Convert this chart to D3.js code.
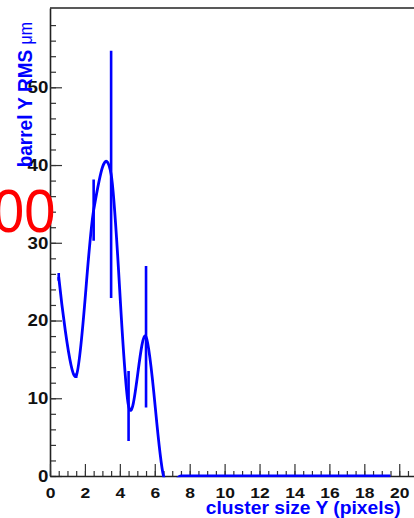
<!DOCTYPE html>
<html>
<head>
<meta charset="utf-8">
<script src="https://cdnjs.cloudflare.com/ajax/libs/d3/7.8.5/d3.min.js"></script>
<style>
  html, body { margin: 0; padding: 0; background: #fff; }
  svg { display: block; }
</style>
</head>
<body>
<svg id="chart" width="414" height="518"></svg>
<script>

// Data
  // bin centres of the cluster size histogram
  var binCentres = [0.5, 1.5, 2.5, 3.5, 4.5, 5.5, 6.5, 7.5, 8.5, 9.5, 10.5, 11.5, 12.5, 13.5, 14.5, 15.5, 16.5, 17.5, 18.5, 19.5];
  // RMS values (um) and their errors
  var rmsValues  = [25.6, 12.9, 34.2, 38.8, 9.0, 17.9, 0, 0, 0, 0, 0, 0, 0, 0, 0, 0, 0, 0, 0, 0];
  var rmsErrors  = [0.5, 0.3, 3.95, 15.9, 4.5, 9.1, 0, 0, 0, 0, 0, 0, 0, 0, 0, 0, 0, 0, 0, 0];

  // tick values
  var xMajorTicks = d3.range(0, 21, 2);
  var xMinorTicks = d3.range(0, 21.01, 0.5);
  var yMajorTicks = [0, 10, 20, 30, 40, 50];
  var yMinorTicks = d3.range(0, 59, 2);

  var xTitle = 'cluster size Y (pixels)';
  var yTitle = 'barrel Y RMS ';
  var yUnit = '\u03bcm';
  var overlayText = '00';

// Layout  (note: 'top' is taken by window.top, so use frame* names)
  var svg = d3.select('#chart');
  var frameLeft = 50, frameTop = 8, frameBottom = 476, frameRight = 416.7;
  var blue = '#0000ff', axisColor = '#222';
  var font = '"Liberation Sans", Arial, sans-serif';

  var x = d3.scaleLinear().domain([0, 21]).range([frameLeft, frameRight]);
  var y = d3.scaleLinear().domain([0, 60.2]).range([frameBottom, frameTop]);

  svg.append('defs').append('clipPath')
    .attr('id', 'plot-clip')
    .append('rect')
      .attr('x', frameLeft)
      .attr('y', frameTop)
      .attr('width', frameRight - frameLeft)
      .attr('height', frameBottom - frameTop + 1.2);

// Frame top line
  svg.append('line')
    .attr('x1', frameLeft).attr('x2', frameRight)
    .attr('y1', frameTop).attr('y2', frameTop)
    .attr('stroke', axisColor)
    .attr('stroke-width', 1.6);

// Y axis (ticks point into the plot)
  var yMinor = svg.append('g')
    .attr('transform', 'translate(' + frameLeft + ',0)')
    .call(d3.axisLeft(y).tickValues(yMinorTicks).tickSizeInner(-6).tickSizeOuter(0).tickFormat(''));
  yMinor.select('.domain').remove();

  var yAxis = svg.append('g')
    .attr('transform', 'translate(' + frameLeft + ',0)')
    .call(d3.axisLeft(y).tickValues(yMajorTicks).tickSizeInner(-12).tickSizeOuter(0).tickPadding(1.5));
  yAxis.select('.domain').attr('stroke', axisColor).attr('stroke-width', 1.6);
  yAxis.selectAll('.tick text')
    .attr('font-family', font)
    .attr('font-weight', 'bold')
    .attr('font-size', 17)
    .attr('fill', '#111')
    .attr('transform', 'scale(1.1,1)');

// X axis (ticks point up)
  var xMinor = svg.append('g')
    .attr('transform', 'translate(0,' + frameBottom + ')')
    .call(d3.axisBottom(x).tickValues(xMinorTicks).tickSizeInner(-5).tickSizeOuter(0).tickFormat(''));
  xMinor.select('.domain').remove();

  var xAxis = svg.append('g')
    .attr('transform', 'translate(0,' + frameBottom + ')')
    .call(d3.axisBottom(x).tickValues(xMajorTicks).tickSizeInner(-12).tickSizeOuter(0).tickPadding(12));
  xAxis.select('.domain').attr('stroke', axisColor).attr('stroke-width', 1.6);
  xAxis.selectAll('.tick text')
    .attr('font-family', font)
    .attr('font-weight', 'bold')
    .attr('font-size', 14)
    .attr('fill', '#111')
    .attr('transform', 'scale(1.25,1)');

  svg.selectAll('.tick line').attr('stroke', '#333').attr('stroke-width', 1.2);

// Data layer
  var pts = binCentres.map(function (c, i) { return {x: c, v: rmsValues[i], e: rmsErrors[i]}; });

  var plot = svg.append('g').attr('clip-path', 'url(#plot-clip)');

  // uniform Catmull-Rom, close to ROOT's smooth "C" drawing
  var line = d3.line()
    .x(function (d) { return x(d.x); })
    .y(function (d) { return y(d.v); })
    .curve(d3.curveCardinal.tension(0));

  plot.append('path')
    .datum(pts)
    .attr('d', line)
    .attr('fill', 'none')
    .attr('stroke', blue)
    .attr('stroke-width', 2.8);

  plot.selectAll('.err')
    .data(pts.filter(function (d) { return d.e > 0; }))
    .enter().append('line')
      .attr('class', 'err')
      .attr('x1', function (d) { return x(d.x); })
      .attr('x2', function (d) { return x(d.x); })
      .attr('y1', function (d) { return y(d.v - d.e); })
      .attr('y2', function (d) { return y(d.v + d.e); })
      .attr('stroke', blue)
      .attr('stroke-width', 2.6);

// Titles
  svg.append('text')
    .attr('transform', 'translate(400.7,514) scale(1.1,1)')
    .attr('text-anchor', 'end')
    .attr('font-family', font)
    .attr('font-weight', 'bold')
    .attr('font-size', 17.5)
    .attr('fill', blue)
    .text(xTitle);

  var yt = svg.append('text')
    .attr('transform', 'translate(31.7,22) scale(1.1,1) rotate(-90)')
    .attr('text-anchor', 'end')
    .attr('font-family', font)
    .attr('font-weight', 'bold')
    .attr('font-size', 19)
    .attr('fill', blue)
    .text(yTitle);
  yt.append('tspan')
    .attr('font-weight', 'normal')
    .attr('font-size', 16)
    .text(yUnit);

// Red overlay text, cut by the left edge
  svg.append('text')
    .attr('transform', 'translate(55.5,231.5) scale(0.92,1)')
    .attr('text-anchor', 'end')
    .attr('font-family', font)
    .attr('font-size', 61)
    .attr('fill', '#ff0000')
    .text(overlayText);

</script>
</body>
</html>
